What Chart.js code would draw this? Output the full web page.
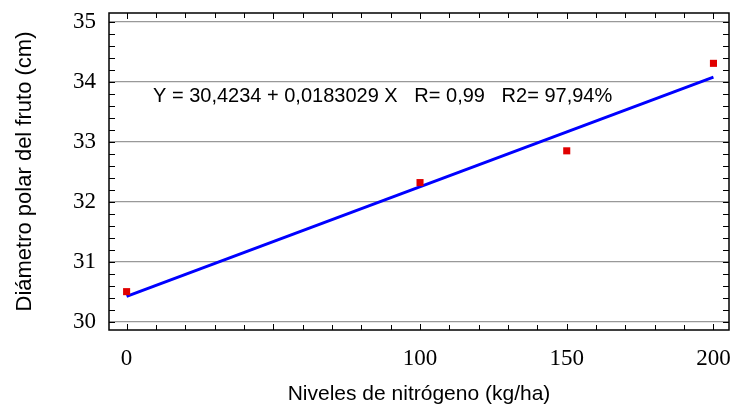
<!DOCTYPE html>
<html>
<head>
<meta charset="utf-8">
<script src="https://cdn.jsdelivr.net/npm/chart.js@4.4.1/dist/chart.umd.min.js"></script>
<style>
  html, body { margin: 0; padding: 0; background: #fff; }
  #wrap { width: 734px; height: 407px; }
</style>
</head>
<body>
<div id="wrap"><canvas id="myChart"></canvas></div>
<script>
// observed data
var nitrogen = [0, 100, 150, 200];
var diameter = [30.5, 32.32, 32.85, 34.31];

// fitted line at its two ends
var fitX = [0, 200];
var fitY = [30.42, 34.08];

var xTickLabels = [0, 100, 150, 200];
var yTickLabels = [30, 31, 32, 33, 34, 35];

var equation = 'Y = 30,4234 + 0,0183029 X   R= 0,99   R2= 97,94%';

var obsPoints = [];
for (var i = 0; i < nitrogen.length; i++) {
  obsPoints.push({ x: nitrogen[i], y: diameter[i] });
}
var fitPoints = [];
for (var i = 0; i < fitX.length; i++) {
  fitPoints.push({ x: fitX[i], y: fitY[i] });
}

// frame, inner ticks and equation text
var framePlugin = {
  id: 'frame',
  afterDraw: function (chart) {
    var c = chart.ctx;
    var a = chart.chartArea;
    var xs = chart.scales.x;
    var ys = chart.scales.y;
    c.save();
    c.strokeStyle = '#000';
    c.lineWidth = 1.5;
    c.strokeRect(a.left, a.top, a.right - a.left, a.bottom - a.top);

    c.lineWidth = 1;
    c.beginPath();
    for (var v = 0; v <= 200; v += 10) {
      var px = Math.round(xs.getPixelForValue(v)) + 0.5;
      var len = (v % 50 === 0) ? 6 : 5;
      c.moveTo(px, a.bottom); c.lineTo(px, a.bottom - len);
      c.moveTo(px, a.top); c.lineTo(px, a.top + len);
    }
    for (var k = 0; k <= 25; k++) {
      var val = 30 + k * 0.2;
      var py = Math.round(ys.getPixelForValue(val)) + 0.5;
      c.moveTo(a.left, py); c.lineTo(a.left + 6, py);
      c.moveTo(a.right, py); c.lineTo(a.right - 6, py);
    }
    c.stroke();

    c.fillStyle = '#000';
    c.font = '20px "Liberation Sans", Arial, sans-serif';
    c.textBaseline = 'middle';
    c.textAlign = 'left';
    c.fillText(equation, a.left + 44, ys.getPixelForValue(33.76));
    c.restore();
  }
};

var ctx = document.getElementById('myChart');
var myChart = new Chart(ctx, {
  type: 'scatter',
  data: {
    datasets: [
      {
        data: fitPoints,
        showLine: true,
        borderColor: '#0000ff',
        borderWidth: 3,
        pointRadius: 0,
        fill: false,
        order: 2
      },
      {
        data: obsPoints,
        pointStyle: 'rect',
        pointRadius: 5,
        backgroundColor: '#e00000',
        borderColor: '#e00000',
        borderWidth: 0,
        order: 1
      }
    ]
  },
  options: {
    responsive: true,
    maintainAspectRatio: false,
    animation: false,
    layout: { padding: { top: 13, right: 4, left: 0, bottom: 0 } },
    plugins: {
      legend: { display: false },
      tooltip: { enabled: false }
    },
    scales: {
      x: {
        type: 'linear',
        min: -6,
        max: 205.3,
        afterBuildTicks: function (scale) {
          scale.ticks = xTickLabels.map(function (v) { return { value: v }; });
        },
        afterFit: function (scale) {
          scale.height = 77;
          scale.paddingLeft = 0;
          scale.paddingRight = 0;
        },
        grid: { display: false, drawTicks: false },
        border: { display: false },
        ticks: {
          color: '#000',
          padding: 15,
          maxRotation: 0,
          font: { family: '"Liberation Serif", "Times New Roman", serif', size: 23 }
        },
        title: {
          display: true,
          text: 'Niveles de nitrógeno (kg/ha)',
          color: '#000',
          padding: { top: 6, bottom: 0 },
          font: { family: '"Liberation Sans", Arial, sans-serif', size: 21 }
        }
      },
      y: {
        min: 29.86,
        max: 35.15,
        afterBuildTicks: function (scale) {
          scale.ticks = yTickLabels.map(function (v) { return { value: v }; });
        },
        afterFit: function (scale) {
          scale.width = 109;
          scale.paddingTop = 0;
          scale.paddingBottom = 0;
        },
        grid: { color: '#999999', lineWidth: 1.2, drawTicks: false },
        border: { display: false },
        ticks: {
          color: '#000',
          padding: 13,
          font: { family: '"Liberation Serif", "Times New Roman", serif', size: 23 }
        },
        title: {
          display: true,
          text: 'Diámetro polar del fruto (cm)',
          color: '#000',
          padding: { top: 12, bottom: 8 },
          font: { family: '"Liberation Sans", Arial, sans-serif', size: 22 }
        }
      }
    }
  },
  plugins: [framePlugin]
});
</script>
</body>
</html>
